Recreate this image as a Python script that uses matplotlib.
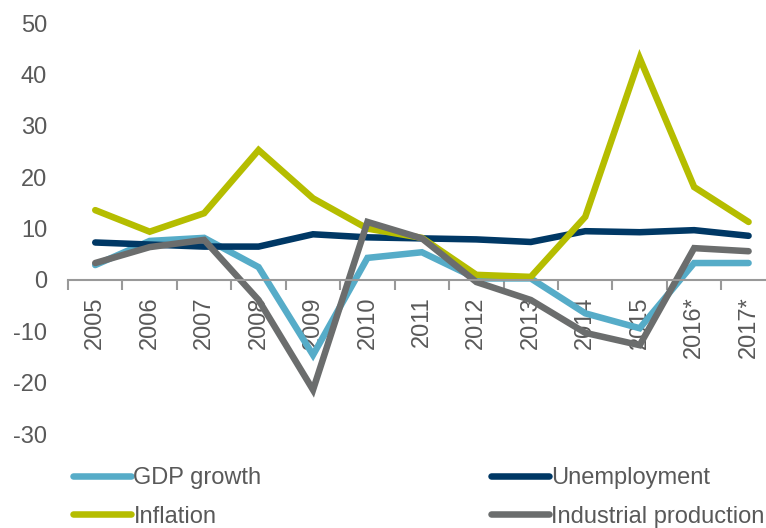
import numpy as np
import matplotlib.pyplot as plt

years = ['2005', '2006', '2007', '2008', '2009', '2010', '2011',
         '2012', '2013', '2014', '2015', '2016*', '2017*']
gdp_growth = [2.9, 7.6, 8.2, 2.5, -14.6, 4.3, 5.4, 0.3, 0.3, -6.5, -9.4, 3.3, 3.3]
unemployment = [7.3, 6.9, 6.5, 6.5, 8.9, 8.3, 8.1, 7.9, 7.4, 9.5, 9.3, 9.7, 8.6]
inflation = [13.6, 9.4, 13.0, 25.3, 15.9, 10.0, 8.2, 1.0, 0.6, 12.3, 43.2, 18.1, 11.3]
industrial = [3.3, 6.4, 7.8, -3.9, -21.4, 11.3, 8.1, -0.4, -3.9, -10.3, -12.7, 6.2, 5.6]

names = ['GDP growth', 'Unemployment', 'Inflation', 'Industrial production']
colors = ['#56acc8', '#003865', '#b5bd00', '#6b6d6d']

plt.rcParams['font.family'] = ['Liberation Sans', 'DejaVu Sans']
plt.rcParams['axes.unicode_minus'] = False

fig = plt.figure(figsize=(7.66, 5.28), dpi=100)
ax = fig.add_axes([0.0888, 0.178, 0.924, 0.778])

x = np.arange(len(years))
lines = []
for vals, name, c in zip([gdp_growth, unemployment, inflation, industrial], names, colors):
    ln, = ax.plot(x, vals, color=c, lw=4.7, solid_capstyle='round',
                  solid_joinstyle='miter', label=name)
    lines.append(ln)

ax.set_xlim(-0.5, len(years) - 0.5)
ax.set_ylim(-30, 50)
ax.set_yticks(range(-30, 51, 10))
ax.tick_params(axis='y', length=0, pad=15, labelsize=17, labelcolor='#595959')

# category axis sits on the zero line
for s in ['top', 'right', 'left']:
    ax.spines[s].set_visible(False)
ax.spines['bottom'].set_position(('data', 0))
ax.spines['bottom'].set_color('#999999')
ax.spines['bottom'].set_linewidth(1.5)
ax.set_xticks(x - 0.5)
ax.set_xticklabels([])
ax.tick_params(axis='x', which='major', length=7, width=1.5, color='#999999')
ax.set_xticks(x, minor=True)
ax.set_xticklabels(years, minor=True, rotation=90)
ax.tick_params(axis='x', which='minor', length=0, pad=12, labelsize=17,
               labelcolor='#595959')

order = [lines[0], lines[2], lines[1], lines[3]]
fig.legend(order, [l.get_label() for l in order], ncol=2, frameon=False,
           loc='upper left', bbox_to_anchor=(0.0953, 0.1155),
           prop={'size': 17}, borderpad=0,
           handlelength=2.46, handletextpad=0.1, columnspacing=9.7,
           labelspacing=0.7, labelcolor='#595959', borderaxespad=0)

fig.savefig('out.png', dpi=100)
